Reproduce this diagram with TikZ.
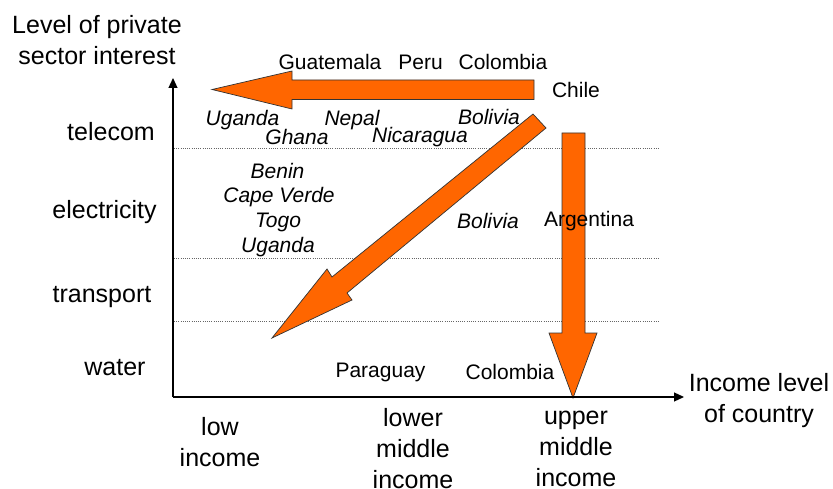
\documentclass[tikz,border=0pt]{standalone}
\usepackage{fontspec}
\setmainfont{Liberation Sans}
\usetikzlibrary{arrows.meta}
\definecolor{blockorange}{HTML}{FF6600}
\begin{document}
\begin{tikzpicture}[x=1pt,y=-1pt,
  big/.style={font=\fontsize{25}{31}\selectfont, align=center, inner sep=0pt},
  ctry/.style={font=\fontsize{21}{25}\selectfont, inner sep=0pt},
  ictry/.style={font=\fontsize{21}{25}\selectfont\itshape, inner sep=0pt},
  blockarrow/.style={fill=blockorange, draw=black!80, line width=0.7pt, line join=miter},
  axis/.style={line width=1.2pt, -{Triangle[length=10pt,width=9pt]}},
  guide/.style={draw=black!60, line width=0.6pt, dash pattern=on 1pt off 1.2pt}]
\useasboundingbox (0,0) rectangle (833,489);

% guide lines
\coordinate (g1a) at (174,148); \coordinate (g1b) at (660,148);
\coordinate (g2a) at (174,258); \coordinate (g2b) at (660,258);
\coordinate (g3a) at (174,321); \coordinate (g3b) at (660,321);
\draw[guide] (g1a) -- (g1b);
\draw[guide] (g2a) -- (g2b);
\draw[guide] (g3a) -- (g3b);

% block arrows
\draw[blockarrow] (534,80) -- (292,80) -- (292,71) -- (212,89.5) -- (292,109) -- (292,99.5) -- (534,99.5) -- cycle;
\draw[blockarrow] (533,114) -- (546,128) -- (347,293) -- (352,300) -- (272,338) -- (327,269) -- (332,277) -- cycle;
\draw[blockarrow] (562,133) -- (585,133) -- (585,333) -- (597,333) -- (573,398) -- (549,333) -- (562,333) -- cycle;

% axes
\coordinate (O) at (173,397);
\coordinate (ytop) at (173,78);
\coordinate (xend) at (684,397);
\draw[axis] (O) -- (ytop);
\draw[axis] (O) -- (xend);

% axis titles
\node[big] (ytitle) at (97,40) {Level of private\\sector interest};
\node[big] (xtitle) at (759,401) {Income level\\of country};

% sector labels
\node[big] (telecom) at (111,132) {telecom};
\node[big] (elec) at (104.5,212) {electricity};
\node[big] (transp) at (102,297) {transport};
\node[big] (water) at (115,368) {water};

% income labels
\node[big] (low) at (220,442) {low\\income};
\node[big] (lower) at (413,449) {lower\\middle\\income};
\node[big] (upper) at (576,449) {upper\\middle\\income};

% countries
\node[ctry] (guat) at (330,62) {Guatemala};
\node[ctry] (peru) at (420.5,62) {Peru};
\node[ctry] (colo1) at (503,62) {Colombia};
\node[ctry] (chile) at (576,90) {Chile};
\node[ictry] (uga1) at (242.5,120) {Uganda};
\node[ictry] (ghana) at (297,137) {Ghana};
\node[ictry] (nepal) at (352,120) {Nepal};
\node[ictry] (nica) at (420,137) {Nicaragua};
\node[ictry] (boli1) at (489,117) {Bolivia};
\node[ictry] (benin) at (277.5,171) {Benin};
\node[ictry] (cape) at (279,197) {Cape Verde};
\node[ictry] (togo) at (278,222) {Togo};
\node[ictry] (uga2) at (278,247) {Uganda};
\node[ictry] (boli2) at (488,221) {Bolivia};
\node[ctry] (arg) at (589,221) {Argentina};
\node[ctry] (para) at (380.5,372) {Paraguay};
\node[ctry] (colo2) at (510,372) {Colombia};
\end{tikzpicture}
\end{document}
